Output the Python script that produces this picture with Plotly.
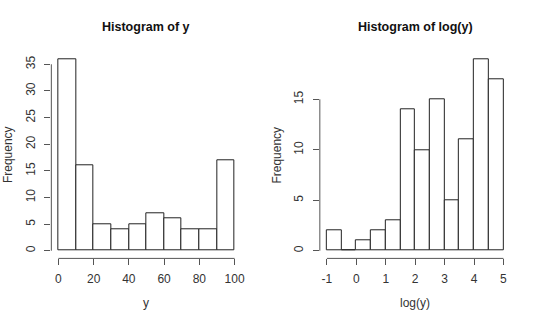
import plotly.graph_objects as go

# Data
y_breaks = [0, 10, 20, 30, 40, 50, 60, 70, 80, 90, 100]
y_counts = [36, 16, 5, 4, 5, 7, 6, 4, 4, 17]
logy_breaks = [-1, -0.5, 0, 0.5, 1, 1.5, 2, 2.5, 3, 3.5, 4, 4.5, 5]
logy_counts = [2, 0, 1, 2, 3, 14, 10, 15, 5, 11, 19, 17]
left_xticks = [0, 20, 40, 60, 80, 100]
left_yticks = [0, 5, 10, 15, 20, 25, 30, 35]
right_xticks = [-1, 0, 1, 2, 3, 4, 5]
right_yticks = [0, 5, 10, 15]

FONT = "Liberation Sans, Arial, sans-serif"
TXT = "#333333"
AX = "#555555"

fig = go.Figure()

def add_hist(breaks, counts, xa, ya):
    centers = [(breaks[i] + breaks[i + 1]) / 2 for i in range(len(counts))]
    widths = [breaks[i + 1] - breaks[i] for i in range(len(counts))]
    fig.add_trace(go.Bar(x=centers, y=counts, width=widths, xaxis=xa, yaxis=ya,
                         marker=dict(color="white", line=dict(color="#222222", width=1)),
                         showlegend=False, hoverinfo="x+y"))

add_hist(y_breaks, y_counts, "x", "y")
add_hist(logy_breaks, logy_counts, "x2", "y2")

def rng(lo, hi):
    d = (hi - lo) * 0.04
    return [lo - d, hi + d]

def lab(v):
    s = ("%g" % v)
    return s  # plain hyphen-minus like R

ydom = [0.2, 0.8412]
axcommon = dict(showgrid=False, zeroline=False, showline=False, ticks="outside",
                ticklen=6, tickcolor=AX, tickwidth=1,
                tickfont=dict(family=FONT, size=12, color=TXT))

fig.update_layout(
    xaxis=dict(domain=[0.0956, 0.45], range=rng(y_breaks[0], y_breaks[-1]),
               tickvals=left_xticks, ticktext=[lab(v) for v in left_xticks],
               ticklabelstandoff=3, anchor="y", **axcommon),
    yaxis=dict(domain=ydom, range=rng(0, max(y_counts)), tickvals=left_yticks,
               ticktext=[lab(v) for v in left_yticks], ticklabelstandoff=5,
               tickangle=-90, anchor="x", **axcommon),
    xaxis2=dict(domain=[0.5956, 0.9507], range=rng(logy_breaks[0], logy_breaks[-1]),
                tickvals=right_xticks, ticktext=[lab(v) for v in right_xticks],
                ticklabelstandoff=3, anchor="y2", **axcommon),
    yaxis2=dict(domain=ydom, range=rng(0, max(logy_counts)), tickvals=right_yticks,
                ticktext=[lab(v) for v in right_yticks], ticklabelstandoff=5,
                tickangle=-90, anchor="x2", **axcommon),
    width=540, height=323, margin=dict(l=0, r=0, t=0, b=0),
    plot_bgcolor="white", paper_bgcolor="white", bargap=0,
)

shapes = []
for xa, ya, xt, yt in [("x", "y", left_xticks, left_yticks), ("x2", "y2", right_xticks, right_yticks)]:
    shapes.append(dict(type="line", xref=xa, yref=ya + " domain", x0=xt[0], x1=xt[-1], y0=0, y1=0,
                       line=dict(color=AX, width=1)))
    shapes.append(dict(type="line", xref=xa + " domain", yref=ya, x0=0, x1=0, y0=yt[0], y1=yt[-1],
                       line=dict(color=AX, width=1)))
fig.update_layout(shapes=shapes)

ann = []
for cx, title, xlab in [((0.0956 + 0.45) / 2, "Histogram of y", "y"),
                        ((0.5956 + 0.9507) / 2, "Histogram of log(y)", "log(y)")]:
    ann.append(dict(text="<b>" + title + "</b>", x=cx, y=1 - 26.7 / 323, xref="paper", yref="paper",
                    showarrow=False, xanchor="center", yanchor="middle",
                    font=dict(family=FONT, size=12.5, color="#111111")))
    ann.append(dict(text=xlab, x=cx, y=1 - 303 / 323, xref="paper", yref="paper",
                    showarrow=False, xanchor="center", yanchor="middle",
                    font=dict(family=FONT, size=12, color=TXT)))
for fx in [8.3 / 540, (270 + 8.3) / 540]:
    ann.append(dict(text="Frequency", x=fx, y=(ydom[0] + ydom[1]) / 2, xref="paper", yref="paper",
                    showarrow=False, xanchor="center", yanchor="middle", textangle=-90,
                    font=dict(family=FONT, size=12, color=TXT)))
fig.update_layout(annotations=ann)

fig.write_html("out.html")
